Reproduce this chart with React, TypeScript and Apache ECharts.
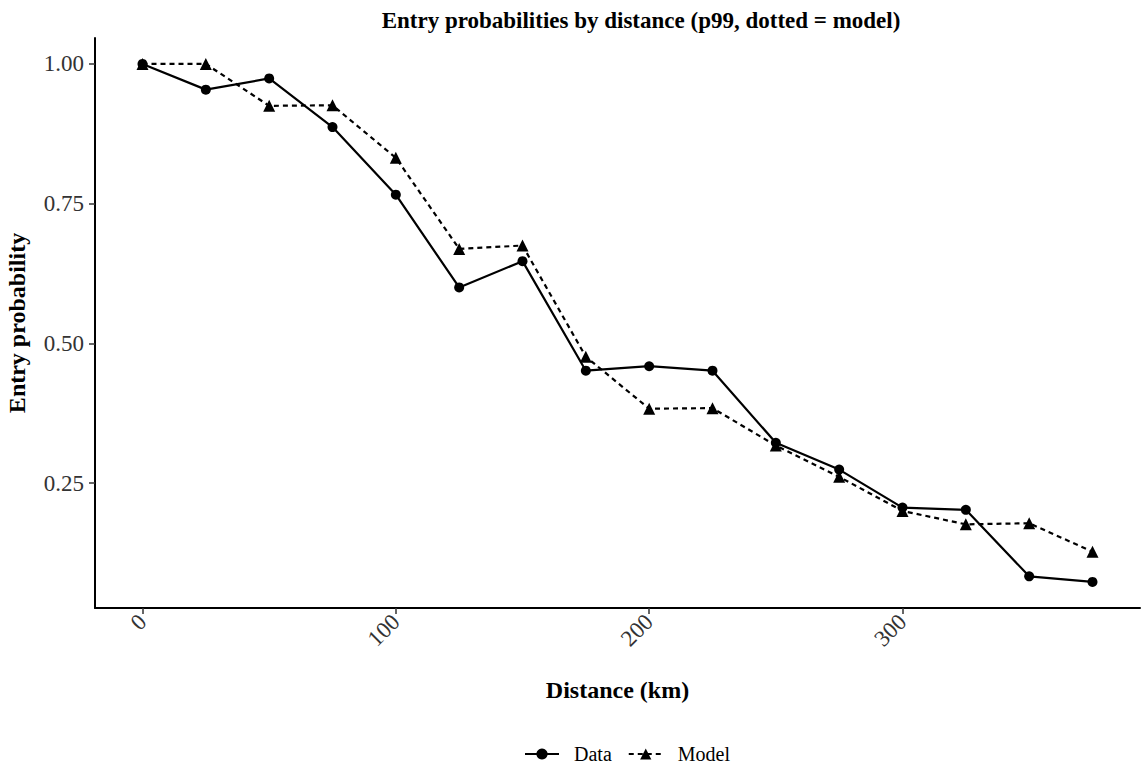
import React, { useEffect, useRef } from "react";
import * as echarts from "echarts";

const distances = [0, 25, 50, 75, 100, 125, 150, 175, 200, 225, 250, 275, 300, 325, 350, 375];
const dataValues = [1.0, 0.954, 0.974, 0.887, 0.766, 0.6, 0.647, 0.451, 0.459, 0.451, 0.322, 0.274, 0.206, 0.202, 0.083, 0.073];
const modelValues = [1.0, 1.0, 0.925, 0.926, 0.832, 0.669, 0.675, 0.476, 0.383, 0.384, 0.317, 0.261, 0.2, 0.176, 0.178, 0.127];
const xTicks = [0, 100, 200, 300];
const yTicks = [0.25, 0.5, 0.75, 1.0];

const FONT = "'Liberation Serif', 'Times New Roman', serif";

export default function App() {
  const ref = useRef<HTMLDivElement>(null);
  useEffect(() => {
    if (!ref.current) return;
    const chart = echarts.init(ref.current, undefined, { renderer: "svg" });
    chart.setOption({
      animation: false,
      backgroundColor: "#fff",
      textStyle: { fontFamily: FONT },
      title: {
        text: "Entry probabilities by distance (p99, dotted = model)",
        left: 636,
        top: 4,
        textAlign: "center",
        textStyle: { fontFamily: FONT, fontWeight: "bold", fontSize: 23, color: "#000" },
      },
      legend: {
        bottom: 3,
        left: 519,
        itemWidth: 34,
        itemHeight: 14,
        itemGap: 16,
        textStyle: { fontFamily: FONT, fontSize: 20, color: "#000", padding: [0, 0, 0, 10] },
        data: ["Data", "Model"],
      },
      grid: { left: 95, right: 3, top: 38, bottom: 164, containLabel: false, outerBoundsMode: "none" },
      xAxis: {
        type: "value",
        min: -18.75,
        max: 393.75,
        name: "Distance (km)",
        nameLocation: "middle",
        nameGap: 70,
        nameTextStyle: { fontFamily: FONT, fontWeight: "bold", fontSize: 24, color: "#000" },
        axisLine: { show: true, onZero: false, lineStyle: { color: "#000", width: 2 } },
        axisTick: { show: true, length: 6, lineStyle: { color: "#333", width: 1.5 }, customValues: xTicks },
        axisLabel: { rotate: 45, fontSize: 23, color: "#333", fontFamily: FONT, margin: 10, customValues: xTicks },
        splitLine: { show: false },
      },
      yAxis: {
        type: "value",
        min: 0.0263,
        max: 1.0464,
        name: "Entry probability",
        nameLocation: "middle",
        nameGap: 66,
        nameRotate: 90,
        nameTextStyle: { fontFamily: FONT, fontWeight: "bold", fontSize: 24, color: "#000" },
        axisLine: { show: true, onZero: false, lineStyle: { color: "#000", width: 2 } },
        axisTick: { show: true, length: 6, lineStyle: { color: "#333", width: 1.5 }, customValues: yTicks },
        axisLabel: {
          fontSize: 23,
          color: "#333",
          fontFamily: FONT,
          margin: 11,
          customValues: yTicks,
          formatter: (v: number) => v.toFixed(2),
        },
        splitLine: { show: false },
      },
      series: [
        {
          name: "Data",
          type: "line",
          data: distances.map((d, i) => [d, dataValues[i]]),
          symbol: "circle",
          symbolSize: 10,
          lineStyle: { color: "#000", width: 2.2 },
          itemStyle: { color: "#000" },
          z: 3,
        },
        {
          name: "Model",
          type: "line",
          data: distances.map((d, i) => [d, modelValues[i]]),
          symbol: "triangle",
          symbolSize: 12,
          lineStyle: { color: "#000", width: 2.2, type: [5, 4] },
          itemStyle: { color: "#000" },
          z: 2,
        },
      ],
    });
    return () => chart.dispose();
  }, []);
  return <div ref={ref} style={{ width: 1143, height: 772, position: "absolute", left: 0, top: 0 }} />;
}
